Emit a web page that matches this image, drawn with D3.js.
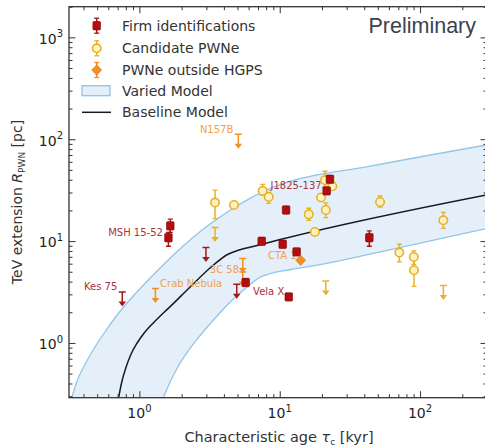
<!DOCTYPE html>
<html><head><meta charset="utf-8">
<script src="https://cdn.jsdelivr.net/npm/d3@7"></script>
<style>body{margin:0;background:#fff} svg{display:block}</style>
</head><body>
<svg id="c" width="485" height="445"></svg>
<script>
// ---------- data (age in kyr, radius in pc) ----------
// firm identifications: [age, R, Rlow, Rhigh, name]
const firmIds = [
  [1.66, 14.1, 12.2, 16.4, ""],
  [1.61, 10.8, 8.9, 12.2, "MSH 15-52"],
  [11.1, 20.2, 19.2, 21.3, ""],
  [22.8, 40.5, 38.3, 42.8, ""],
  [21.6, 31.1, 29.4, 32.9, "J1825-137"],
  [7.44, 9.96, 9.4, 10.5, ""],
  [10.5, 9.31, 8.8, 9.9, ""],
  [13.2, 7.83, 7.4, 8.3, ""],
  [11.6, 2.83, 2.7, 2.97, "Vela X"],
  [5.72, 3.92, 3.65, 4.25, ""],
  [43.5, 10.8, 8.9, 12.6, ""]
];
// firm identifications, upper limits: [age, Rmax, name]
const firmUpper = [
  [0.755, 3.17, "Kes 75"],
  [2.98, 8.64, ""],
  [4.94, 3.77, ""]
];
// candidate PWNe: [age, R, Rlow, Rhigh]
const candidates = [
  [3.46, 23.9, 16.6, 31.6],
  [4.72, 22.6, 21.9, 23.3],
  [7.56, 31.1, 28.2, 36.1],
  [8.35, 27.1, 23.5, 30.0],
  [16.1, 18.3, 16.0, 21.0],
  [19.7, 26.8, 25.6, 28.0],
  [21.3, 20.2, 17.0, 23.7],
  [21.0, 39.6, 34.0, 48.5],
  [23.7, 34.5, 32.6, 36.4],
  [17.8, 12.3, 11.6, 13.1],
  [51.9, 24.2, 21.6, 27.7],
  [146.6, 16.0, 13.3, 19.1],
  [71.2, 7.72, 6.24, 9.31],
  [90.2, 6.99, 5.9, 8.0],
  [90.6, 5.17, 3.60, 6.6]
];
// candidate PWNe, upper limits: [age, Rmax]
const candidateUpper = [
  [3.46, 13.6],
  [21.3, 4.06],
  [146.6, 3.66]
];
// PWNe outside HGPS: [age, R, Rlow, Rhigh, name]
const outside = [
  [14.1, 6.49, 6.49, 6.49, "CTA 1"]
];
// PWNe outside HGPS, upper limits: [age, Rmax, name]
const outsideUpper = [
  [5.07, 112, "N157B"],
  [1.30, 3.42, "Crab Nebula"],
  [5.45, 6.74, "3C 58"],
  [5.45, 4.98, ""]
];
// model curves: [age, R]
const baselineModel = [
  [0.71, 0.288], [0.751, 0.421], [0.803, 0.577], [0.871, 0.775], [0.961, 0.993],
  [1.078, 1.245], [1.23, 1.526], [1.402, 1.83], [1.60, 2.17], [2.29, 3.52],
  [3.29, 5.66], [4.28, 7.43], [5.21, 8.22], [7.24, 9.20], [10.05, 10.35], [300, 28.5]
];
const variedUpper = [
  [0.329, 0.288], [0.359, 0.421], [0.403, 0.590], [0.467, 0.848], [0.559, 1.245],
  [0.692, 1.87], [0.900, 2.87], [1.19, 4.32], [1.573, 6.34], [2.08, 9.10],
  [2.70, 12.35], [3.52, 16.2], [4.65, 21.0], [6.14, 26.3], [7.86, 31.2],
  [10.56, 36.6], [44.0, 54.3], [300, 88]
];
const variedLower = [
  [1.48, 0.288], [1.652, 0.411], [1.884, 0.584], [2.22, 0.829], [2.70, 1.177],
  [3.46, 1.748], [4.42, 2.51], [5.39, 3.22], [6.35, 3.90], [7.24, 4.42],
  [8.53, 4.78], [11.84, 5.23], [19.4, 5.86], [44.0, 7.43], [300, 13.3]
];
const xTicks = [1, 10, 100];
const yTicks = [1, 10, 100, 1000];
const legendLabels = ["Firm identifications", "Candidate PWNe", "PWNe outside HGPS", "Varied Model", "Baseline Model"];
const xTitle = "Characteristic age ";
const yTitle = "TeV extension ";
const watermark = "Preliminary";

// ---------- layout / style ----------
const Lp = 69, Rp = 487, Tp = 6.7, Bp = 397.7;
const COL = {
  firm: "#b30d0d", firmEdge: "#7d0000", firmErr: "#a51818", firmLabel: "#a8343e",
  cand: "#e6b22a", candFill: "#fff4bf",
  out: "#f38e22", outLabel: "#f0a04c",
  bandFill: "#e4eff9", bandStroke: "#92c5e6",
  axis: "#333"
};
const labelPos = {
  "MSH 15-52": {dx: -5.5, dy: -2, anchor: "end"},
  "J1825-137": {dx: -5, dy: -1.5, anchor: "end"},
  "Vela X": {dx: -4.5, dy: -1.5, anchor: "end"},
  "Kes 75": {dx: -5, dy: -2.2, anchor: "end"},
  "CTA 1": {dx: -4, dy: -1.5, anchor: "end"},
  "N157B": {dx: -5, dy: -1.6, anchor: "end"},
  "Crab Nebula": {dx: 4.7, dy: -1.5, anchor: "start"},
  "3C 58": {dx: -3.7, dy: 14.2, anchor: "end"}
};

const svg = d3.select("#c");
const x = d3.scaleLog().domain([0.315, 300]).range([Lp, Rp]);
const y = d3.scaleLog().domain([0.29, 2000]).range([Bp, Tp]);
const FONT = "DejaVu Sans, Verdana, sans-serif";

svg.append("defs").append("clipPath").attr("id", "clip")
  .append("rect").attr("x", Lp).attr("y", Tp).attr("width", Rp - Lp).attr("height", Bp - Tp);

const plot = svg.append("g").attr("clip-path", "url(#clip)");

// band: fill under the upper edge, then mask below the lower edge
const line = d3.line().x(d => x(d[0])).y(d => y(d[1])).curve(d3.curveMonotoneX);
function underPath(pts) {
  return line(pts) + `L${Rp + 10},${Bp + 10}L${x(pts[0][0])},${Bp + 10}Z`;
}
plot.append("path").attr("d", underPath(variedUpper)).attr("fill", COL.bandFill);
plot.append("path").attr("d", underPath(variedLower)).attr("fill", "#fff");
plot.append("path").attr("d", line(variedUpper)).attr("fill", "none").attr("stroke", COL.bandStroke).attr("stroke-width", 1.3);
plot.append("path").attr("d", line(variedLower)).attr("fill", "none").attr("stroke", COL.bandStroke).attr("stroke-width", 1.3);
plot.append("path").attr("d", line(baselineModel)).attr("fill", "none").attr("stroke", "#1a1a1a").attr("stroke-width", 1.5);

// labels (under markers)
function addLabel(name, px, py, color) {
  if (!name) return;
  const p = labelPos[name];
  plot.append("text").attr("x", px + p.dx).attr("y", py + p.dy).attr("text-anchor", p.anchor)
    .attr("font-family", FONT).attr("font-size", 10).attr("fill", color).text(name);
}
firmIds.forEach(d => addLabel(d[4], x(d[0]), y(d[1]), COL.firmLabel));
firmUpper.forEach(d => addLabel(d[2], x(d[0]), y(d[1]), COL.firmLabel));
outside.forEach(d => addLabel(d[4], x(d[0]), y(d[1]), COL.outLabel));
outsideUpper.forEach(d => addLabel(d[2], x(d[0]), y(d[1]), COL.outLabel));

// helpers
function errBar(g, px, y0, y1, color) {
  g.append("line").attr("x1", px).attr("x2", px).attr("y1", y0).attr("y2", y1)
    .attr("stroke", color).attr("stroke-width", 1.5);
  [y0, y1].forEach(yy => g.append("line").attr("x1", px - 2.5).attr("x2", px + 2.5)
    .attr("y1", yy).attr("y2", yy).attr("stroke", color).attr("stroke-width", 1.3));
}
function upperArrow(g, px, py, color) {
  g.append("line").attr("x1", px - 3.5).attr("x2", px + 3.5).attr("y1", py).attr("y2", py)
    .attr("stroke", color).attr("stroke-width", 1.5);
  g.append("line").attr("x1", px).attr("x2", px).attr("y1", py).attr("y2", py + 10)
    .attr("stroke", color).attr("stroke-width", 1.5);
  g.append("path").attr("d", `M${px - 3.8},${py + 9.5}L${px + 3.8},${py + 9.5}L${px},${py + 14.5}Z`)
    .attr("fill", color);
}
function square(g, px, py) {
  g.append("rect").attr("x", px - 3.8).attr("y", py - 4.2).attr("width", 7.6).attr("height", 8.4).attr("rx", 1)
    .attr("fill", COL.firm).attr("stroke", COL.firmEdge).attr("stroke-width", 0.6);
}
function circle(g, px, py) {
  g.append("circle").attr("cx", px).attr("cy", py).attr("r", 4.2)
    .attr("fill", COL.candFill).attr("stroke", COL.cand).attr("stroke-width", 1.6);
}
function diamond(g, px, py) {
  g.append("path").attr("d", `M${px},${py - 5.2}L${px + 5},${py}L${px},${py + 5.2}L${px - 5},${py}Z`)
    .attr("fill", COL.out).attr("stroke", "#e07810").attr("stroke-width", 0.6);
}

const marks = plot.append("g");
outsideUpper.forEach(d => upperArrow(marks, x(d[0]), y(d[1]), COL.out));
candidateUpper.forEach(d => upperArrow(marks, x(d[0]), y(d[1]), COL.cand));
firmUpper.forEach(d => upperArrow(marks, x(d[0]), y(d[1]), COL.firmErr));
candidates.forEach(d => { errBar(marks, x(d[0]), y(d[2]), y(d[3]), COL.cand); });
candidates.forEach(d => circle(marks, x(d[0]), y(d[1])));
firmIds.forEach(d => { errBar(marks, x(d[0]), y(d[2]), y(d[3]), COL.firmErr); square(marks, x(d[0]), y(d[1])); });
outside.forEach(d => diamond(marks, x(d[0]), y(d[1])));

// ---------- axes ----------
function minorVals(scale) {
  const [a, b] = scale.domain(); const out = [];
  for (let e = Math.floor(Math.log10(a)); e <= Math.ceil(Math.log10(b)); e++)
    for (let m = 2; m <= 9; m++) { const v = m * Math.pow(10, e); if (v >= a && v <= b) out.push(v); }
  return out;
}
const axG = svg.append("g").attr("color", COL.axis);
function styleAxis(g) { g.select(".domain").remove(); g.selectAll("line").attr("stroke", COL.axis).attr("stroke-width", 1); }
axG.append("g").attr("transform", `translate(0,${Bp})`).call(d3.axisBottom(x).tickValues(xTicks).tickSize(-6.5).tickFormat("")).call(styleAxis);
axG.append("g").attr("transform", `translate(0,${Bp})`).call(d3.axisBottom(x).tickValues(minorVals(x)).tickSize(-3.5).tickFormat("")).call(styleAxis);
axG.append("g").attr("transform", `translate(0,${Tp})`).call(d3.axisTop(x).tickValues(xTicks).tickSize(-6.5).tickFormat("")).call(styleAxis);
axG.append("g").attr("transform", `translate(0,${Tp})`).call(d3.axisTop(x).tickValues(minorVals(x)).tickSize(-3.5).tickFormat("")).call(styleAxis);
axG.append("g").attr("transform", `translate(${Lp},0)`).call(d3.axisLeft(y).tickValues(yTicks).tickSize(-6.5).tickFormat("")).call(styleAxis);
axG.append("g").attr("transform", `translate(${Lp},0)`).call(d3.axisLeft(y).tickValues(minorVals(y)).tickSize(-3.5).tickFormat("")).call(styleAxis);
axG.append("g").attr("transform", `translate(${Rp},0)`).call(d3.axisRight(y).tickValues(yTicks).tickSize(-6.5).tickFormat("")).call(styleAxis);
axG.append("g").attr("transform", `translate(${Rp},0)`).call(d3.axisRight(y).tickValues(minorVals(y)).tickSize(-3.5).tickFormat("")).call(styleAxis);

svg.append("rect").attr("x", Lp).attr("y", Tp).attr("width", Rp - Lp).attr("height", Bp - Tp)
  .attr("fill", "none").attr("stroke", COL.axis).attr("stroke-width", 1.3);

function powLabel(sel, v) {
  const e = Math.round(Math.log10(v));
  sel.append("tspan").text("10");
  sel.append("tspan").attr("font-size", 10).attr("dy", -6.5).text(e);
}
xTicks.forEach(v => {
  const t = svg.append("text").attr("x", x(v)).attr("y", Bp + 20.6).attr("text-anchor", "middle")
    .attr("font-family", FONT).attr("font-size", 14).attr("fill", "#222");
  powLabel(t, v);
});
yTicks.forEach(v => {
  const t = svg.append("text").attr("x", Lp - 6).attr("y", y(v) + 6.3).attr("text-anchor", "end")
    .attr("font-family", FONT).attr("font-size", 14).attr("fill", "#222");
  powLabel(t, v);
});

// axis titles
const xt = svg.append("text").attr("x", 279).attr("y", 441.5).attr("text-anchor", "middle")
  .attr("font-family", FONT).attr("font-size", 14.5).attr("fill", "#333");
xt.append("tspan").text(xTitle);
xt.append("tspan").attr("font-style", "italic").text("τ");
xt.append("tspan").attr("font-size", 9).attr("dy", 3).text("c");
xt.append("tspan").attr("dy", -3).text(" [kyr]");

const yt = svg.append("text").attr("transform", "translate(21.5,202) rotate(-90)").attr("text-anchor", "middle")
  .attr("font-family", FONT).attr("font-size", 14).attr("fill", "#333");
yt.append("tspan").text(yTitle);
yt.append("tspan").attr("font-style", "italic").text("R");
yt.append("tspan").attr("font-size", 9).attr("dy", 3).text("PWN");
yt.append("tspan").attr("dy", -3).text(" [pc]");

// watermark
svg.append("text").attr("x", 368.5).attr("y", 32.5).attr("font-family", "Liberation Sans, Arial, sans-serif")
  .attr("font-size", 21.5).attr("fill", "#3b4350").text(watermark);

// ---------- legend ----------
const lg = svg.append("g");
const rowY = [25.7, 48.3, 70, 90.7, 112.3];
const mx = 96.7;
legendLabels.forEach((t, i) => {
  lg.append("text").attr("x", 122).attr("y", rowY[i] + 5).attr("font-family", FONT).attr("font-size", 14)
    .attr("fill", "#333").text(t);
});
errBar(lg, mx, rowY[0] - 7.5, rowY[0] + 7.5, COL.firmErr); square(lg, mx, rowY[0]);
errBar(lg, mx, rowY[1] - 7.5, rowY[1] + 7.5, COL.cand); circle(lg, mx, rowY[1]);
errBar(lg, mx, rowY[2] - 7.5, rowY[2] + 7.5, COL.out); diamond(lg, mx, rowY[2]);
lg.append("rect").attr("x", 82).attr("y", rowY[3] - 5).attr("width", 28).attr("height", 10)
  .attr("fill", COL.bandFill).attr("stroke", COL.bandStroke).attr("stroke-width", 1.3);
lg.append("line").attr("x1", 82).attr("x2", 111).attr("y1", rowY[4]).attr("y2", rowY[4])
  .attr("stroke", "#1a1a1a").attr("stroke-width", 1.5);
</script>
</body></html>
